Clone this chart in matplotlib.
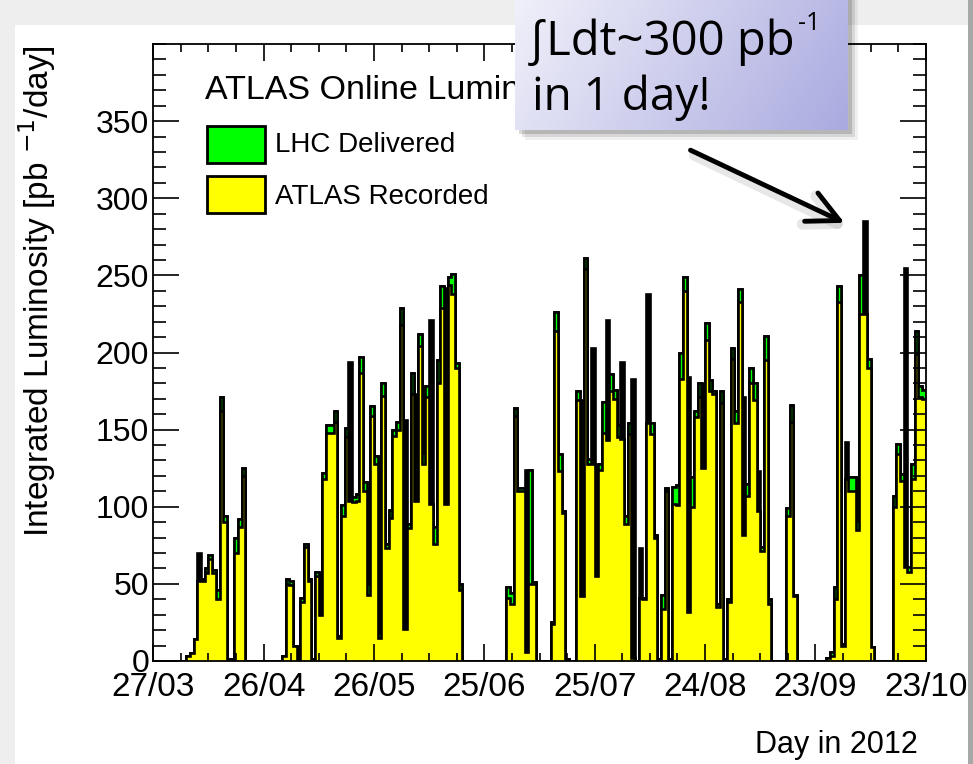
import numpy as np
import matplotlib.pyplot as plt
from matplotlib.patches import Rectangle, FancyArrowPatch
from matplotlib.colors import LinearSegmentedColormap
from matplotlib.ticker import MultipleLocator, FixedLocator
from matplotlib.transforms import Bbox

plt.rcParams['font.family'] = ['Liberation Sans', 'DejaVu Sans']

# Daily luminosity in pb^-1, one bin per day starting 27/03/2012
delivered = [
    0, 0, 0, 0, 0, 0, 0, 0, 0, 3,
    5, 14, 70, 53, 60, 69, 59, 46, 171, 94,
    1, 0, 80, 92, 125, 0, 0, 0, 0, 0,
    0, 0, 0, 0, 0, 3, 53, 52, 10, 1,
    41, 76, 53, 1, 58, 57, 122, 153, 153, 162,
    16, 101, 151, 194, 106, 108, 197, 116, 50, 165,
    133, 18, 180, 76, 98, 150, 155, 229, 156, 89,
    187, 173, 212, 135, 178, 221, 87, 195, 243, 242,
    249, 251, 193, 50, 0, 0, 0, 0, 0, 0,
    0, 0, 0, 0, 0, 0, 48, 44, 164, 112,
    112, 124, 124, 51, 0, 0, 0, 0, 25, 226,
    134, 97, 1, 0, 0, 175, 169, 261, 131, 203,
    57, 128, 168, 221, 186, 176, 153, 194, 94, 154,
    183, 0, 73, 41, 238, 154, 82, 1, 43, 112,
    1, 113, 114, 200, 249, 184, 119, 162, 180, 180,
    219, 182, 175, 37, 175, 1, 40, 203, 162, 241,
    171, 115, 190, 180, 123, 74, 211, 40, 0, 0,
    0, 0, 99, 166, 43, 0, 0, 0, 0, 0,
    0, 0, 0, 2, 6, 48, 243, 11, 142, 119,
    119, 91, 250, 285, 196, 9, 0, 0, 0, 0,
    0, 107, 141, 121, 255, 61, 128, 214, 178, 176,
]
recorded = [
    0, 0, 0, 0, 0, 0, 0, 0, 0, 3,
    5, 14, 52, 52, 57, 66, 57, 40, 162, 90,
    1, 0, 70, 87, 120, 0, 0, 0, 0, 0,
    0, 0, 0, 0, 0, 3, 50, 49, 10, 1,
    38, 74, 52, 1, 55, 30, 118, 148, 148, 155,
    15, 94, 145, 104, 103, 104, 187, 110, 43, 159,
    128, 15, 172, 73, 93, 146, 150, 218, 21, 86,
    173, 104, 204, 128, 171, 102, 76, 180, 229, 102,
    244, 238, 190, 46, 0, 0, 0, 0, 0, 0,
    0, 0, 0, 0, 0, 0, 41, 37, 159, 110,
    110, 6, 50, 50, 0, 0, 0, 0, 24, 214,
    123, 96, 1, 0, 0, 169, 42, 254, 128, 128,
    55, 124, 148, 143, 175, 170, 145, 144, 89, 147,
    2, 0, 41, 40, 154, 147, 80, 1, 34, 110,
    1, 102, 101, 183, 240, 32, 100, 158, 171, 125,
    208, 175, 173, 35, 167, 1, 38, 196, 154, 233,
    82, 107, 180, 169, 97, 71, 195, 37, 0, 0,
    0, 0, 94, 155, 42, 0, 0, 0, 0, 0,
    0, 0, 0, 2, 3, 40, 233, 10, 118, 110,
    110, 85, 225, 225, 190, 9, 0, 0, 0, 0,
    0, 100, 134, 117, 61, 58, 118, 199, 171, 170,
]
# days where the delivered/recorded difference shows up black
gap_days = [12, 45, 53, 68, 71, 75, 79, 101, 116, 119, 123, 127, 130, 132,
            134, 145, 149, 160, 164, 188, 193, 204]

date_labels = ['27/03', '26/04', '26/05', '25/06', '25/07', '24/08', '23/09', '23/10']

W, H = 973, 764
fig = plt.figure(figsize=(W / 100, H / 100), dpi=100, facecolor='#eeeeee')

def fx(px):
    return px / W

def fy(py):
    return 1 - py / H

# white slide panel
fig.patches.append(Rectangle((fx(15), 0), fx(953), fy(25), transform=fig.transFigure,
                             facecolor='white', edgecolor='none', zorder=-5))
fig.patches.append(Rectangle((fx(968), 0), fx(5), 1, transform=fig.transFigure,
                             facecolor='#a8a8a8', edgecolor='none', zorder=-5))

ax = fig.add_axes([fx(153.3), fy(661), fx(925.7 - 153.3), (661 - 44) / H])
ax.set_facecolor('white')

D = np.array(delivered, dtype=float)
R = np.array(recorded, dtype=float)
G = D.copy()
G[gap_days] = R[gap_days]
edges = np.arange(len(D) + 1)

lw = 1.9
ax.stairs(D, edges, fill=True, facecolor='black', edgecolor='black', linewidth=lw)
ax.stairs(G, edges, fill=True, facecolor='#00ff00', edgecolor='black', linewidth=lw)
ax.stairs(R, edges, fill=True, facecolor='#ffff00', edgecolor='black', linewidth=lw)

ax.set_xlim(0, 210)
ax.set_ylim(0, 400)

ax.xaxis.set_major_locator(FixedLocator(np.arange(0, 211, 30)))
ax.set_xticklabels(date_labels)
ax.xaxis.set_minor_locator(MultipleLocator(7.5))
ax.yaxis.set_major_locator(FixedLocator(np.arange(0, 351, 50)))
ax.yaxis.set_minor_locator(MultipleLocator(10))

ax.tick_params(which='both', direction='in', top=True, right=True, width=1.2, colors='black')
ax.tick_params(axis='x', which='major', length=12, pad=8, labelsize=24)
ax.tick_params(axis='x', which='minor', length=6)
ax.tick_params(axis='y', which='major', length=19, pad=3, labelsize=23)
ax.tick_params(axis='y', which='minor', length=9.5)
for s in ax.spines.values():
    s.set_linewidth(1.3)

fig.text(fx(37), fy(45), 'Integrated Luminosity [pb $^{-1}$/day]', rotation=90,
         ha='center', va='top', fontsize=24)
fig.text(fx(918), fy(745), 'Day in 2012', ha='right', va='center', fontsize=22)

# legend (title runs under the callout box)
title = fig.text(fx(205), fy(90), 'ATLAS Online Luminosity', ha='left', va='center',
                 fontsize=24.5)
title.set_clip_box(Bbox.from_extents(0, 0, 515, H))
title.set_clip_on(True)
fig.patches.append(Rectangle((fx(207), fy(163)), fx(58), (163 - 126) / H,
                             transform=fig.transFigure, facecolor='#00ff00',
                             edgecolor='black', linewidth=2, zorder=2))
fig.patches.append(Rectangle((fx(207), fy(213)), fx(58), (213 - 176) / H,
                             transform=fig.transFigure, facecolor='#ffff00',
                             edgecolor='black', linewidth=2, zorder=2))
fig.text(fx(275), fy(145), 'LHC Delivered', ha='left', va='center', fontsize=20)
fig.text(fx(275), fy(197), 'ATLAS Recorded', ha='left', va='center', fontsize=20)

# callout box with shadow
for off, a in [(10, 0.06), (7, 0.1), (4, 0.15)]:
    fig.patches.append(Rectangle((fx(515 + off), fy(130 + off)), fx(333), (130 + off) / H,
                                 transform=fig.transFigure, facecolor='#000000',
                                 edgecolor='none', alpha=a, zorder=5))
box_ax = fig.add_axes([fx(515), fy(130), fx(333), 130 / H], zorder=6)
gx, gy = np.meshgrid(np.linspace(0, 1, 200), np.linspace(0, 1, 60))
shade = 0.8 * gx + 0.2 * gy
cmap = LinearSegmentedColormap.from_list('callout', ['#f0f0fa', '#aaaae0'])
box_ax.imshow(shade, cmap=cmap, aspect='auto', extent=[0, 1, 0, 1], origin='upper')
box_ax.set_axis_off()

callout_font = ['Open Sans', 'DejaVu Sans']
fig.text(fx(528), fy(42), '\u222bLdt~300 pb', ha='left', va='center',
         fontsize=34, family=callout_font, zorder=8)
fig.text(fx(798), fy(24), '-1', ha='left', va='center',
         fontsize=18, family=callout_font, zorder=8)
fig.text(fx(532), fy(98), 'in 1 day!', ha='left', va='center', fontsize=33,
         family=callout_font, zorder=8)

# arrow to the record day
shadow = FancyArrowPatch((fx(692), fy(154)), (fx(851), fy(230)), transform=fig.transFigure,
                         arrowstyle='->,head_length=0.9,head_width=0.45', mutation_scale=25,
                         color='#888888', linewidth=8, alpha=0.2, zorder=7)
fig.patches.append(shadow)
arrow = FancyArrowPatch((fx(688), fy(149)), (fx(847), fy(224)), transform=fig.transFigure,
                        arrowstyle='->,head_length=0.9,head_width=0.45', mutation_scale=25,
                        color='black', linewidth=3.5, zorder=8)
fig.patches.append(arrow)

fig.savefig('out.png', dpi=100, facecolor=fig.get_facecolor())
